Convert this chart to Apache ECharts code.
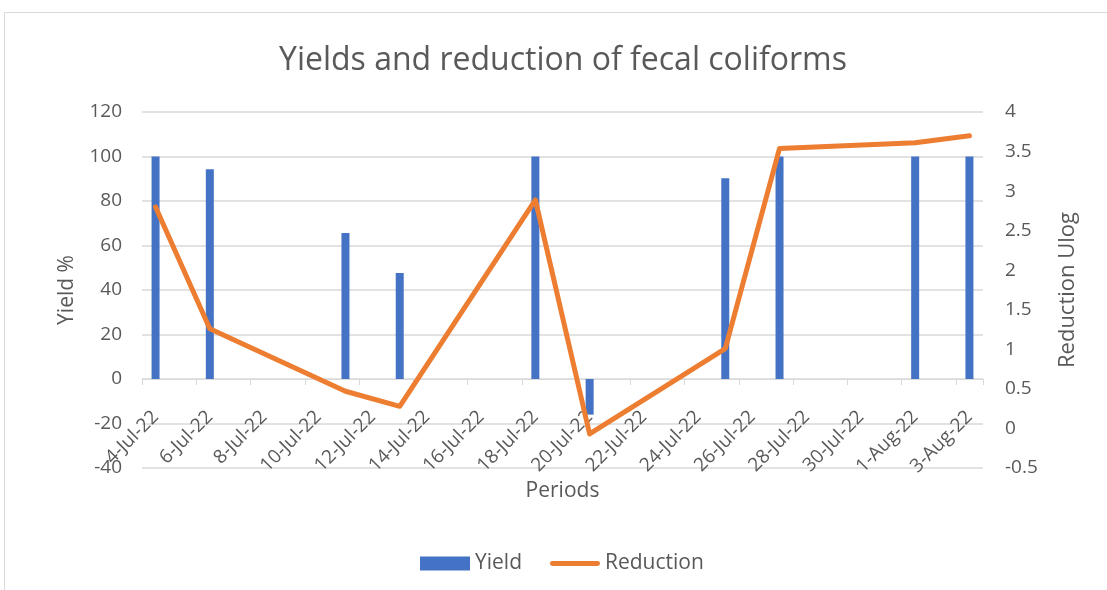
<!DOCTYPE html>
<html>
<head>
<meta charset="utf-8">
<script src="https://cdn.jsdelivr.net/npm/echarts@6/dist/echarts.min.js"></script>
<style>html,body{margin:0;padding:0;background:#fff}#c{width:1107px;height:590px}</style>
</head>
<body>
<div id="c"></div>
<script>
var dates = ['4-Jul-22','5-Jul-22','6-Jul-22','7-Jul-22','8-Jul-22','9-Jul-22','10-Jul-22','11-Jul-22','12-Jul-22','13-Jul-22','14-Jul-22','15-Jul-22','16-Jul-22','17-Jul-22','18-Jul-22','19-Jul-22','20-Jul-22','21-Jul-22','22-Jul-22','23-Jul-22','24-Jul-22','25-Jul-22','26-Jul-22','27-Jul-22','28-Jul-22','29-Jul-22','30-Jul-22','31-Jul-22','1-Aug-22','2-Aug-22','3-Aug-22'];
var yieldVals = [100,null,94.3,null,null,null,null,65.6,null,47.6,null,null,null,null,100,null,-16,null,null,null,null,90.2,null,100,null,null,null,null,100,null,100];
var reductionVals = [2.8,null,1.26,null,null,null,null,0.47,null,0.28,null,null,null,null,2.89,null,-0.07,null,null,null,null,1.01,null,3.54,null,null,null,null,3.61,null,3.7];
var leftTicks = {min:-40, max:120, interval:20};
var rightTicks = {min:-0.5, max:4, interval:0.5};

var FONT = '"Open Sans", sans-serif';
var TXT = '#595959';
var chart = echarts.init(document.getElementById('c'), null, {renderer:'canvas'});
chart.setOption({
  animation:false,
  textStyle:{fontFamily:FONT},
  title:{text:'Yields and reduction of fecal coliforms', left:274, top:40,
    padding:5,
    textStyle:{fontFamily:FONT, fontSize:32, fontWeight:'normal', color:TXT}},
  graphic:[{type:'rect', shape:{x:4.5,y:12.5,width:1300,height:800},
    style:{fill:'none', stroke:'#d9d9d9', lineWidth:1}, silent:true}],
  legend:{bottom:11, left:415, itemGap:28, itemWidth:50, itemHeight:14,
    textStyle:{fontFamily:FONT, fontSize:21, color:TXT},
    data:[{name:'Yield', icon:'rect'},{name:'Reduction', icon:'path://M2,0 L48,0 A2.5,2.5 0 0 1 48,5 L2,5 A2.5,2.5 0 0 1 2,0 Z'}]},
  grid:{left:142, right:124, top:112, bottom:122, containLabel:false},
  xAxis:{type:'category', data:dates, boundaryGap:true,
    name:'Periods', nameLocation:'middle', nameGap:13, nameMoveOverlap:false,
    nameTextStyle:{fontFamily:FONT, fontSize:21, color:TXT, verticalAlign:'top'},
    axisLine:{lineStyle:{color:'#d9d9d9', width:1}},
    axisTick:{show:true, interval:1, length:6, lineStyle:{color:'#d9d9d9'}},
    axisLabel:{interval:1, rotate:45, fontSize:19, color:TXT, fontFamily:FONT, margin:-54},
    splitLine:{show:false}},
  yAxis:[
    {type:'value', min:leftTicks.min, max:leftTicks.max, interval:leftTicks.interval,
     name:'Yield %', nameLocation:'middle', nameGap:64, nameRotate:90, nameMoveOverlap:false,
     nameTextStyle:{fontFamily:FONT, fontSize:21, color:TXT},
     axisLine:{show:false}, axisTick:{show:false},
     axisLabel:{fontSize:19, color:TXT, fontFamily:FONT, margin:20},
     splitLine:{show:true, lineStyle:{color:'#d9d9d9', width:1.5}}},
    {type:'value', min:rightTicks.min, max:rightTicks.max, interval:rightTicks.interval,
     name:'Reduction Ulog', nameLocation:'middle', nameGap:74, nameRotate:90, nameMoveOverlap:false,
     nameTextStyle:{fontFamily:FONT, fontSize:22, color:TXT},
     axisLine:{show:false}, axisTick:{show:false},
     axisLabel:{fontSize:19, color:TXT, fontFamily:FONT, margin:22},
     splitLine:{show:false}}
  ],
  series:[
    {name:'Yield', type:'bar', yAxisIndex:0, data:yieldVals, barWidth:8,
     itemStyle:{color:'#4472C4'}},
    {name:'Reduction', type:'line', yAxisIndex:1, data:reductionVals, connectNulls:true,
     symbol:'none', showSymbol:false, z:5,
     lineStyle:{color:'#ED7D31', width:5, cap:'round', join:'round'},
     itemStyle:{color:'#ED7D31'}}
  ]
});
</script>
</body>
</html>
